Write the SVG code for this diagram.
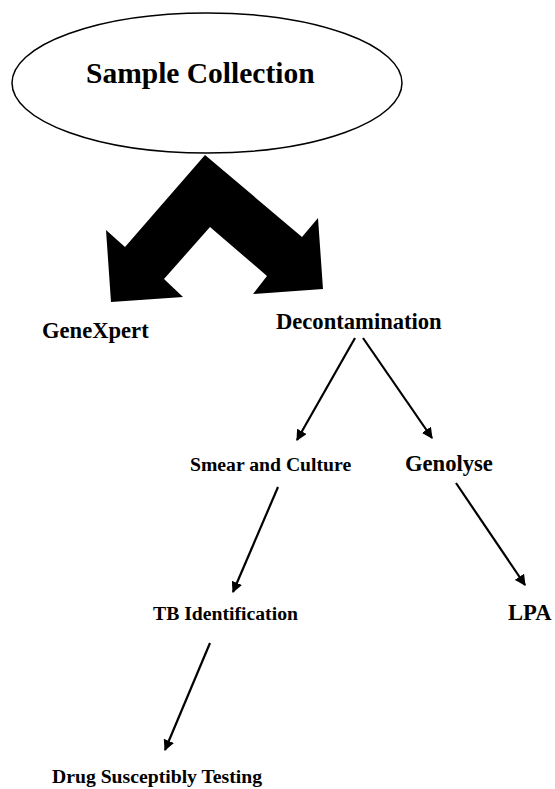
<svg xmlns="http://www.w3.org/2000/svg" width="555" height="789" viewBox="0 0 555 789">
<style>
.t{font-family:"Liberation Serif","Times New Roman",serif;font-weight:bold;fill:#000}
.big{font-size:22.6px}
.sm{font-size:19.7px}
.ln{stroke:#000;stroke-width:2.2;fill:none;marker-end:url(#ah)}
</style>
<defs>
<marker id="ah" viewBox="0 0 10 10" refX="9" refY="5" markerWidth="5" markerHeight="5" markerUnits="strokeWidth" orient="auto">
<path d="M0,0 L10,5 L0,10 Z" fill="#000"/>
</marker>
</defs>
<rect width="555" height="789" fill="#fff"/>
<g id="sample-collection">
<ellipse cx="207" cy="83" rx="195" ry="70" fill="#fff" stroke="#000" stroke-width="1.5"/>
<text class="t" x="86" y="83" style="font-size:29.5px">Sample Collection</text>
</g>
<g id="split-arrow">
<polygon points="205,155 302,237 318,218 323,289 253,294 267,276 210,227 164,279 183,297 111,302 106,230 125,247" fill="#000"/>
</g>
<g id="genexpert"><text class="t big" x="42" y="338">GeneXpert</text></g>
<g id="decontamination"><text class="t big" x="276" y="329">Decontamination</text></g>
<g id="smear-culture"><text class="t sm" x="190" y="471">Smear and Culture</text></g>
<g id="genolyse"><text class="t big" x="405" y="471">Genolyse</text></g>
<g id="tb-identification"><text class="t sm" x="153" y="620">TB Identification</text></g>
<g id="lpa"><text class="t big" x="508" y="620">LPA</text></g>
<g id="dst"><text class="t sm" x="52" y="783">Drug Susceptibly Testing</text></g>
<g id="connectors">
<line class="ln" x1="355" y1="338" x2="297" y2="440"/>
<line class="ln" x1="363" y1="338" x2="432" y2="438"/>
<line class="ln" x1="278" y1="487" x2="233" y2="592"/>
<line class="ln" x1="456" y1="483" x2="525" y2="585"/>
<line class="ln" x1="210" y1="643" x2="165" y2="750"/>
</g>
</svg>
